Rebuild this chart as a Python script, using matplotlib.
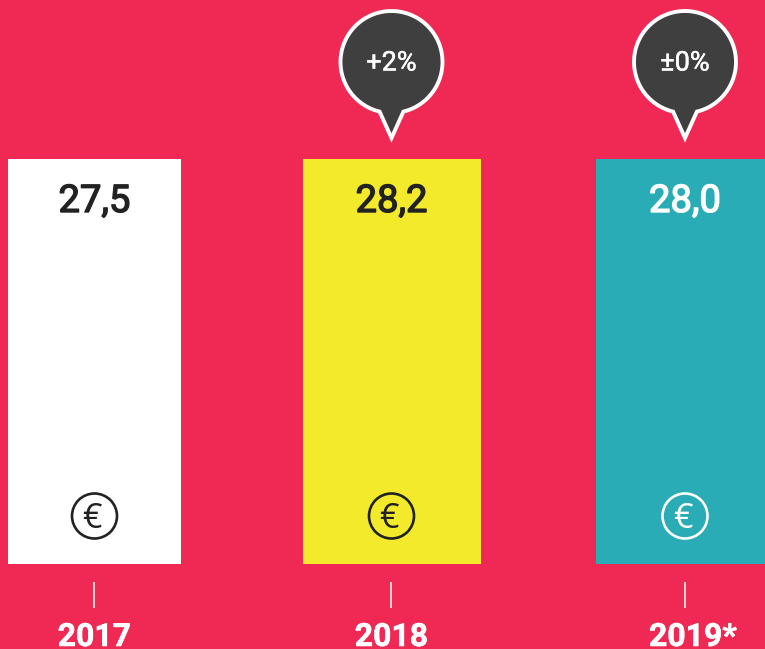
import numpy as np
import matplotlib.pyplot as plt
import matplotlib.patheffects as pe
from matplotlib.patches import Circle, PathPatch
from matplotlib.path import Path

plt.rcParams['font.family'] = ['Roboto', 'DejaVu Sans']

years = ['2017', '2018', '2019*']
values = ['27,5', '28,2', '28,0']
changes = [None, '+2%', '±0%']
bar_colors = ['#ffffff', '#f4ea2c', '#29acb5']
text_colors = ['#222222', '#222222', '#ffffff']
bg = '#ef2953'

# bars are all drawn the same height in the original, pixel coordinates here
bar_left = [8, 303, 596]
bar_width = [173, 178, 172]
centers = [94.5, 391.5, 685]
bar_top = 159
bar_bottom = 564


def bubble(ax, cx):
    cy, r, tip = 62, 51, 138
    t = np.linspace(np.arctan2(50, 12), np.arctan2(50, -12) - 2 * np.pi, 120)
    pts = [(cx + r * np.cos(a), cy + r * np.sin(a)) for a in t]
    pts.append((cx, tip))
    pts.append(pts[0])
    codes = [Path.MOVETO] + [Path.LINETO] * (len(pts) - 2) + [Path.CLOSEPOLY]
    ax.add_patch(PathPatch(Path(pts, codes), fc='#3f3f3f', ec='white', lw=2.8, joinstyle='miter'))


def heavier(color, w):
    return [pe.withStroke(linewidth=w, foreground=color)]


fig = plt.figure(figsize=(7.65, 6.49), dpi=100, facecolor=bg)
ax = fig.add_axes([0, 0, 1, 1])
ax.set_xlim(0, 765)
ax.set_ylim(649, 0)
ax.axis('off')

ax.bar(bar_left, [bar_bottom - bar_top] * 3, width=bar_width, bottom=bar_top, align='edge', color=bar_colors)

for i, cx in enumerate(centers):
    ax.text(cx, 212, values[i], ha='center', va='baseline', fontsize=27.5, color=text_colors[i],
            path_effects=heavier(text_colors[i], 1.0))
    ax.add_patch(Circle((cx, 516), 22.5, fc='none', ec=text_colors[i], lw=1.9))
    ax.text(cx - 2.5, 528.5, '€', ha='center', va='baseline', fontsize=24.5, family='Open Sans',
            color=text_colors[i])
    ax.plot([cx, cx], [582, 608], color='white', lw=1.1, solid_capstyle='butt')
    ax.text(cx + (8 if i == 2 else 0), 646, years[i], ha='center', va='baseline', fontsize=23, fontweight='bold',
            color='white', path_effects=heavier('white', 0.4))
    if changes[i]:
        bubble(ax, cx)
        ax.text(cx, 63, changes[i], ha='center', va='center', fontsize=19.5, color='white',
                path_effects=heavier('white', 0.3))

fig.savefig('out.png', dpi=100, facecolor=bg)
